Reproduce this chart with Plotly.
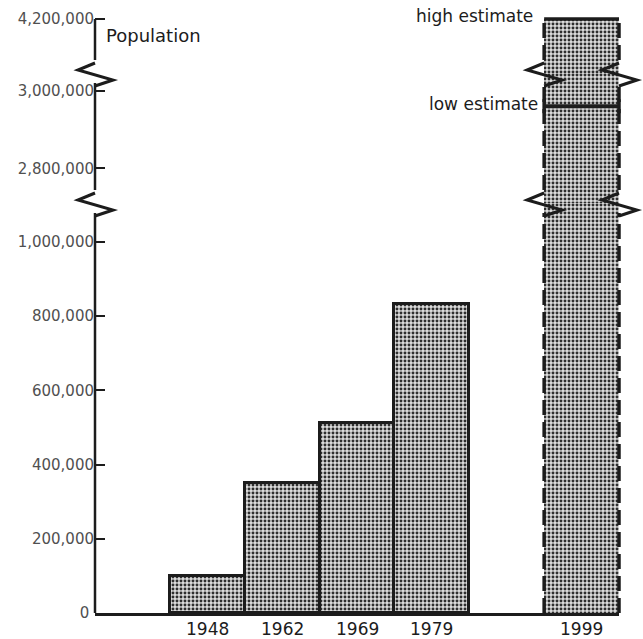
import plotly.graph_objects as go

# ---------------- data ----------------
years_hist = ["1948", "1962", "1969", "1979"]
pop_hist = [100000, 350000, 512000, 833000]
year_proj = "1999"
high_estimate = 4200000
low_estimate = 2960000
ticks_low = [0, 200000, 400000, 600000, 800000, 1000000]
ticks_mid = [2800000, 3000000]
ticks_top = [4200000]
y_title = "Population"
high_label = "high estimate"
low_label = "low estimate"

# ---------------- layout constants ----------------
W, H = 643, 639
M_L, M_R, M_T, M_B = 95, 24, 14, 26
PH = H - M_T - M_B
BRK_LO_PX = 203   # break positions, px from top of figure
BRK_HI_PX = 73
b1 = (H - M_B - BRK_LO_PX) / PH
b2 = (H - M_B - BRK_HI_PX) / PH
R1 = [0, 1105100]
R2 = [2710600, 3045600]
R3 = [4059600, 4213000]
SEGS = [(0.0, b1, R1), (b1, b2, R2), (b2, 1.0, R3)]

INK = "#1c1c1c"
TICK_GREY = "#505050"
FONT = "DejaVu Sans"
GAP_UP, GAP_DN = 10, 13   # px of axis removed above/below a break


def to_paper(v, k):
    d0, d1, (v0, v1) = SEGS[k]
    return d0 + (v - v0) / (v1 - v0) * (d1 - d0)


def fmt(v):
    # zero label sits a little further from the axis in the original
    return f"{v:,}" if v else "0\u00a0"


# x positions: one empty slot before the series, one between history and projection
pos_hist = [i + 1 for i in range(len(years_hist))]
pos_proj = len(years_hist) + 2
X_RANGE = [-0.5, pos_proj + 0.5]


def xpaper(x):
    return (x - X_RANGE[0]) / (X_RANGE[1] - X_RANGE[0])


edge_l = xpaper(pos_proj - 0.5)
edge_r = xpaper(pos_proj + 0.5)

FILL_BG = "#dcdcdc"
pattern = dict(shape=".", fgcolor="#2e2e2e", bgcolor=FILL_BG,
               size=4, solidity=0.42, fillmode="replace")

fig = go.Figure()
fig.add_bar(x=pos_hist, y=pop_hist, width=1, xaxis="x", yaxis="y",
            marker=dict(color=FILL_BG, pattern=pattern,
                        line=dict(color=INK, width=3)),
            showlegend=False, hoverinfo="skip")
for yax in ["y", "y2", "y3"]:
    fig.add_bar(x=[pos_proj], y=[high_estimate], width=1, xaxis="x", yaxis=yax,
                marker=dict(color=FILL_BG, pattern=pattern,
                            line=dict(width=0)),
                showlegend=False, hoverinfo="skip")

shapes = []
# y-axis line, broken at the two breaks
gu, gd = GAP_UP / PH, GAP_DN / PH
axis_spans = [(0.0, b1 - gu), (b1 + gd, b2 - gu), (b2 + gd, to_paper(ticks_top[-1], 2))]
for y0, y1 in axis_spans:
    shapes.append(dict(type="line", xref="paper", yref="paper", x0=0, x1=0,
                       y0=y0, y1=y1, line=dict(color=INK, width=2.5)))

# projection bar edges (dashed), broken at breaks
edge_spans = [(0.0, b1 - gu), (b1 + gd, b2 - gu), (b2 + gd, to_paper(high_estimate, 2))]
for ex in (edge_l, edge_r):
    for y0, y1 in edge_spans:
        shapes.append(dict(type="line", xref="paper", yref="paper", x0=ex, x1=ex,
                           y0=y0, y1=y1,
                           line=dict(color=INK, width=3.5, dash="15px,7px")))

# high estimate top line
yh = to_paper(high_estimate, 2)
shapes.append(dict(type="line", xref="paper", yref="paper", x0=edge_l, x1=edge_r,
                   y0=yh, y1=yh, line=dict(color=INK, width=3.5)))
# low estimate line with end caps
yl = to_paper(low_estimate, 1)
shapes.append(dict(type="line", xref="paper", yref="paper", x0=edge_l, x1=edge_r,
                   y0=yl, y1=yl, line=dict(color=INK, width=4)))
for ex in (edge_l, edge_r):
    shapes.append(dict(type="line", xref="paper", yref="paper", xsizemode="scaled",
                       ysizemode="pixel", yanchor=yl, x0=ex, x1=ex, y0=-7, y1=7,
                       line=dict(color=INK, width=3.5)))

# zigzag break marks
zig = "M 0,10 L -17,3 L 18,-7 L 0,-13"
for ex in (0.0, edge_l, edge_r):
    for by in (b1, b2):
        shapes.append(dict(type="path", xref="paper", yref="paper",
                           xsizemode="pixel", ysizemode="pixel",
                           xanchor=ex, yanchor=by, path=zig,
                           fillcolor="rgba(0,0,0,0)",
                           line=dict(color=INK, width=3)))

annotations = [
    dict(text=y_title, xref="paper", yref="paper", x=0, y=to_paper(ticks_top[-1], 2),
         xanchor="left", yanchor="middle", xshift=9, yshift=-17, showarrow=False,
         font=dict(family=FONT, size=18, color=INK)),
    dict(text=high_label, xref="paper", yref="paper", x=edge_l, y=yh,
         xanchor="right", yanchor="middle", xshift=-9, yshift=3, showarrow=False,
         font=dict(family=FONT, size=17, color=INK)),
    dict(text=low_label, xref="paper", yref="paper", x=edge_l, y=yl,
         xanchor="right", yanchor="middle", xshift=-4, yshift=2, showarrow=False,
         font=dict(family=FONT, size=17, color=INK)),
]
# year labels under the bars
for p, yr in zip(pos_hist + [pos_proj], years_hist + [year_proj]):
    annotations.append(dict(text=yr, xref="x", yref="paper", x=p, y=0,
                            xanchor="center", yanchor="top", yshift=-4,
                            showarrow=False,
                            font=dict(family=FONT, size=17, color=INK)))

yax_common = dict(anchor="x", ticks="inside", ticklen=10, tickwidth=2, tickcolor=INK,
                  showline=False, showgrid=False, zeroline=False, fixedrange=True,
                  tickfont=dict(family=FONT, size=15, color=TICK_GREY),
                  automargin=False, tickmode="array")

fig.update_layout(
    template="none",
    width=W, height=H,
    margin=dict(l=M_L, r=M_R, t=M_T, b=M_B, pad=0),
    paper_bgcolor="white", plot_bgcolor="rgba(0,0,0,0)",
    font=dict(family=FONT, color=INK),
    barmode="overlay", bargap=0,
    showlegend=False,
    xaxis=dict(range=X_RANGE, anchor="y", tickmode="array",
               tickvals=pos_hist + [pos_proj], showticklabels=False,
               ticks="", showline=True, linewidth=3, linecolor=INK,
               showgrid=False, zeroline=False, automargin=False, fixedrange=True),
    yaxis=dict(domain=[0, b1], range=R1, tickvals=ticks_low,
               ticktext=[fmt(v) for v in ticks_low], **yax_common),
    yaxis2=dict(domain=[b1, b2], range=R2, tickvals=ticks_mid,
                ticktext=[fmt(v) for v in ticks_mid], **yax_common),
    yaxis3=dict(domain=[b2, 1.0], range=R3, tickvals=ticks_top,
                ticktext=[fmt(v) for v in ticks_top], **yax_common),
    shapes=shapes,
    annotations=annotations,
)

fig.write_html("out.html",
               config={"displayModeBar": False},
               post_script="document.body.style.margin='0';"
                           "document.body.style.overflow='hidden';")
